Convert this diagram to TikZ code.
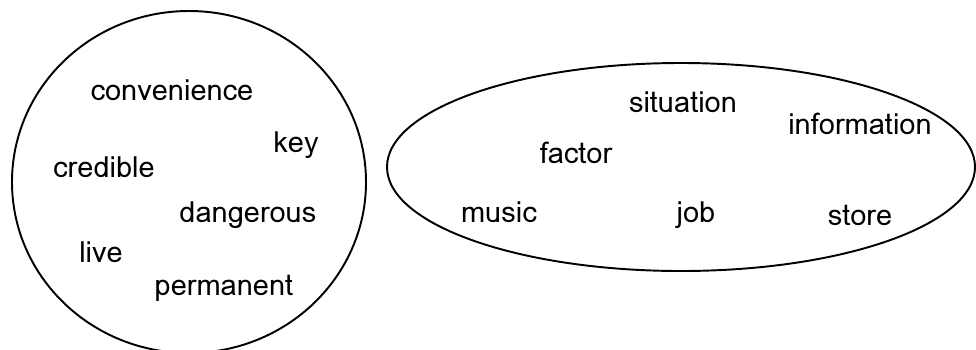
\documentclass[tikz,border=0pt]{standalone}
\usepackage{fontspec}
\setmainfont{Loma}
\tikzset{word/.style={anchor=base,inner sep=0pt,font=\fontsize{16.5}{19}\selectfont}}

\begin{document}
\begin{tikzpicture}[x=0.02cm,y=-0.02cm,line width=1.1pt]
	\useasboundingbox (0,0) rectangle (976,349);
	% left group
	\draw (189,182) ellipse [x radius=177, y radius=171];%
	\node[word] (convenience) at (172,100) {convenience};%
	\node[word] (key) at (296,152) {key};%
	\node[word] (credible) at (104,177) {credible};%
	\node[word] (dangerous) at (248,222) {dangerous};%
	\node[word] (live) at (101,262) {live};%
	\node[word] (permanent) at (224,295) {permanent};%
	% right group
	\draw (681,167) ellipse [x radius=294, y radius=104];%
	\node[word] (situation) at (683,112) {situation};%
	\node[word] (information) at (860,134) {information};%
	\node[word] (factor) at (576,163) {factor};%
	\node[word] (music) at (499,222) {music};%
	\node[word] (job) at (696,222) {job};%
	\node[word] (store) at (860,225) {store};%
\end{tikzpicture}
\end{document}
